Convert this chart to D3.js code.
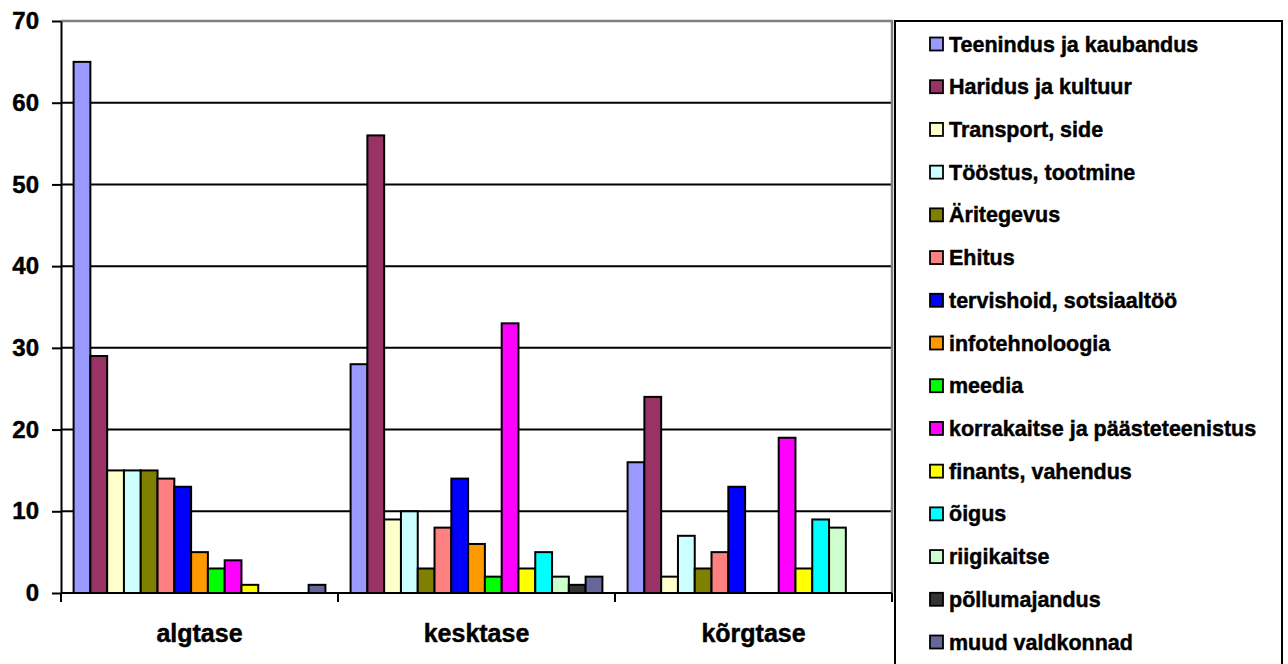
<!DOCTYPE html>
<html>
<head>
<meta charset="utf-8">
<script src="https://cdn.jsdelivr.net/npm/d3@7"></script>
<style>
  html, body { margin: 0; padding: 0; background: #fff; }
  svg { display: block; }
  text { font-family: "Liberation Sans", Arial, sans-serif; font-weight: bold; fill: #000; stroke: #000; stroke-width: 0.45px; }
</style>
</head>
<body>
<svg id="chart" width="1288" height="664"></svg>
<script>
// ---- data ----
const categories = ["algtase", "kesktase", "kõrgtase"];
const seriesNames = [
  "Teenindus ja kaubandus",
  "Haridus ja kultuur",
  "Transport, side",
  "Tööstus, tootmine",
  "Äritegevus",
  "Ehitus",
  "tervishoid, sotsiaaltöö",
  "infotehnoloogia",
  "meedia",
  "korrakaitse ja päästeteenistus",
  "finants, vahendus",
  "õigus",
  "riigikaitse",
  "põllumajandus",
  "muud valdkonnad"
];
// values per series, in category order [algtase, kesktase, kõrgtase]
const seriesValues = [
  [65, 28, 16],
  [29, 56, 24],
  [15, 9, 2],
  [15, 10, 7],
  [15, 3, 3],
  [14, 8, 5],
  [13, 14, 13],
  [5, 6, 0],
  [3, 2, 0],
  [4, 33, 19],
  [1, 3, 3],
  [0, 5, 9],
  [0, 2, 8],
  [0, 1, 0],
  [1, 2, 0]
];
const seriesColors = [
  "#9999FF", "#993366", "#FFFFCC", "#CCFFFF", "#808000",
  "#FF8080", "#0000FF", "#FF9900", "#00FF00", "#FF00FF",
  "#FFFF00", "#00FFFF", "#CCFFCC", "#333333", "#666699"
];
const yTicks = [0, 10, 20, 30, 40, 50, 60, 70];

// ---- layout ----
const svg = d3.select("#chart");
const plot = { left: 61, right: 892, top: 21, bottom: 593 };

const x0 = d3.scaleBand().domain(categories).range([plot.left, plot.right]).padding(0);
const bw = x0.bandwidth();
const gapSide = bw * 0.75 / 16.5;
const x1 = d3.scaleBand().domain(seriesNames).range([gapSide, bw - gapSide]).padding(0);
const y = d3.scaleLinear().domain([0, 70]).range([plot.bottom, plot.top]);

// gridlines
svg.append("g")
  .selectAll("line")
  .data(yTicks.filter(t => t > 0 && t < 70))
  .join("line")
  .attr("x1", plot.left).attr("x2", plot.right)
  .attr("y1", d => y(d)).attr("y2", d => y(d))
  .attr("stroke", "#000").attr("stroke-width", 2);

// plot area border (top & right gray)
svg.append("path")
  .attr("d", `M${plot.left},${y(70)}H${plot.right}V${plot.bottom}`)
  .attr("fill", "none").attr("stroke", "#808080").attr("stroke-width", 2.5);

// bars
const data = [];
categories.forEach((c, ci) => {
  seriesNames.forEach((s, si) => {
    data.push({ cat: c, series: s, value: seriesValues[si][ci], color: seriesColors[si] });
  });
});
svg.append("g")
  .selectAll("rect")
  .data(data.filter(d => d.value > 0))
  .join("rect")
  .attr("x", d => x0(d.cat) + x1(d.series))
  .attr("y", d => y(d.value))
  .attr("width", x1.bandwidth())
  .attr("height", d => y(0) - y(d.value))
  .attr("fill", d => d.color)
  .attr("stroke", "#000").attr("stroke-width", 2);

// y axis
const yAxis = d3.axisLeft(y).tickValues(yTicks).tickSize(9).tickPadding(13).tickSizeOuter(0);
const yg = svg.append("g").attr("transform", `translate(${plot.left},0)`).call(yAxis);
yg.select(".domain").attr("stroke", "#000").attr("stroke-width", 2);
yg.selectAll(".tick line").attr("stroke", "#000").attr("stroke-width", 2);
yg.selectAll(".tick text").style("font-size", "24px").style("font-family", "'Liberation Sans', Arial, sans-serif").style("font-weight", "bold").attr("fill", "#000");

// x axis (line + boundary ticks)
const boundaries = categories.map(c => x0(c)).concat([plot.right]);
svg.append("line")
  .attr("x1", plot.left).attr("x2", plot.right)
  .attr("y1", y(0)).attr("y2", y(0))
  .attr("stroke", "#000").attr("stroke-width", 2);
svg.append("g").selectAll("line")
  .data(boundaries)
  .join("line")
  .attr("x1", d => d).attr("x2", d => d)
  .attr("y1", y(0)).attr("y2", y(0) + 9)
  .attr("stroke", "#000").attr("stroke-width", 2);
svg.append("g").selectAll("text")
  .data(categories)
  .join("text")
  .attr("x", d => x0(d) + bw / 2)
  .attr("y", 642)
  .attr("text-anchor", "middle")
  .style("font-size", "25px")
  .text(d => d);

// legend
const legend = svg.append("g");
legend.append("rect")
  .attr("x", 895).attr("y", 21)
  .attr("width", 387).attr("height", 660)
  .attr("fill", "#fff").attr("stroke", "#000").attr("stroke-width", 2);
const ly = d3.scalePoint().domain(seriesNames).range([44, 642]);
const items = legend.selectAll("g.item")
  .data(seriesNames)
  .join("g").attr("class", "item")
  .attr("transform", d => `translate(0,${ly(d)})`);
items.append("rect")
  .attr("x", 930).attr("y", -6.5)
  .attr("width", 13).attr("height", 13)
  .attr("fill", (d, i) => seriesColors[i])
  .attr("stroke", "#000").attr("stroke-width", 1.8);
items.append("text")
  .attr("x", 949).attr("y", 7.5)
  .style("font-size", "21.5px")
  .text(d => d);
</script>
</body>
</html>
